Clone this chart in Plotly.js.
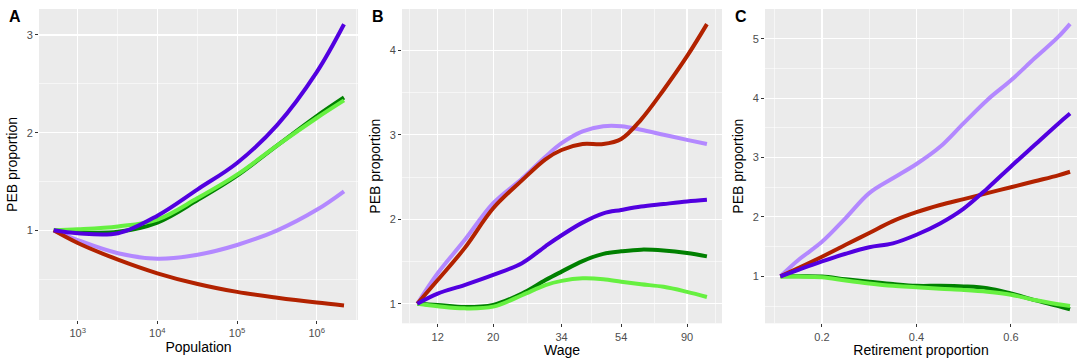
<!DOCTYPE html>
<html>
<head>
<meta charset="utf-8">
<script src="https://cdn.plot.ly/plotly-3.0.1.min.js"></script>
<style>html,body{margin:0;padding:0;background:#fff;}#chart{width:1077px;height:361px;}</style>
</head>
<body>
<div id="chart"></div>
<script>
// ---------- Panel A: Population ----------
const population = [500, 1000, 3200, 10000, 32000, 100000, 320000, 1000000, 2200000];
const popDarkGreen  = [1.00, 0.98, 0.985, 1.08, 1.31, 1.56, 1.87, 2.17, 2.36];
const popLightGreen = [1.00, 1.01, 1.04, 1.11, 1.33, 1.57, 1.87, 2.15, 2.33];
const popLavender   = [1.00, 0.90, 0.765, 0.71, 0.75, 0.85, 1.00, 1.21, 1.40];
const popRed        = [1.00, 0.87, 0.70, 0.56, 0.45, 0.37, 0.31, 0.26, 0.23];
const popPurple     = [1.00, 0.97, 0.97, 1.15, 1.42, 1.69, 2.08, 2.62, 3.11];

// ---------- Panel B: Wage ----------
const wage = [11.1, 13, 16, 20, 25, 30, 34, 40, 47, 54, 63, 75, 90, 105];
const wageDarkGreen  = [1.00, 0.985, 0.96, 0.985, 1.12, 1.28, 1.38, 1.505, 1.59, 1.62, 1.64, 1.63, 1.60, 1.56];
const wageLightGreen = [1.00, 0.97, 0.945, 0.965, 1.10, 1.22, 1.27, 1.30, 1.29, 1.26, 1.23, 1.20, 1.14, 1.08];
const wageLavender   = [1.00, 1.36, 1.75, 2.19, 2.48, 2.74, 2.90, 3.04, 3.10, 3.10, 3.06, 3.00, 2.94, 2.89];
const wageRed        = [1.00, 1.28, 1.655, 2.13, 2.46, 2.71, 2.82, 2.89, 2.89, 2.95, 3.18, 3.53, 3.93, 4.31];
const wagePurple     = [1.00, 1.12, 1.22, 1.34, 1.48, 1.68, 1.81, 1.96, 2.07, 2.11, 2.15, 2.18, 2.21, 2.23];
const wageTickVals   = [13, 20, 34, 54, 90];
const wageTickLabels = ["12", "20", "34", "54", "90"];

// ---------- Panel C: Retirement proportion ----------
const retire = [0.112, 0.15, 0.2, 0.25, 0.3, 0.35, 0.4, 0.45, 0.5, 0.55, 0.6, 0.65, 0.7, 0.725];
const retDarkGreen  = [1.00, 1.00, 0.995, 0.95, 0.91, 0.87, 0.84, 0.84, 0.83, 0.80, 0.71, 0.60, 0.50, 0.445];
const retLightGreen = [0.995, 0.995, 0.985, 0.93, 0.88, 0.84, 0.815, 0.79, 0.77, 0.74, 0.69, 0.60, 0.53, 0.50];
const retLavender   = [1.00, 1.275, 1.58, 1.98, 2.40, 2.65, 2.89, 3.18, 3.58, 3.97, 4.30, 4.67, 5.03, 5.25];
const retRed        = [1.00, 1.14, 1.33, 1.53, 1.73, 1.93, 2.08, 2.20, 2.30, 2.40, 2.50, 2.60, 2.70, 2.76];
const retPurple     = [1.00, 1.11, 1.25, 1.38, 1.49, 1.555, 1.70, 1.89, 2.14, 2.48, 2.85, 3.21, 3.57, 3.74];

const colors = {
  darkGreen: '#008000',
  lightGreen: '#66F040',
  lavender: '#B388FF',
  red: '#B22200',
  purple: '#5200E0'
};
const lineW = 4;

function mk(x, y, color, xa, ya) {
  return {x: x, y: y, type: 'scatter', mode: 'lines', xaxis: xa, yaxis: ya,
          line: {color: color, width: lineW, shape: 'spline', smoothing: 1},
          hoverinfo: 'skip', showlegend: false};
}

const traces = [
  mk(population, popDarkGreen, colors.darkGreen, 'x', 'y'),
  mk(population, popLightGreen, colors.lightGreen, 'x', 'y'),
  mk(population, popLavender, colors.lavender, 'x', 'y'),
  mk(population, popRed, colors.red, 'x', 'y'),
  mk(population, popPurple, colors.purple, 'x', 'y'),

  mk(wage, wageDarkGreen, colors.darkGreen, 'x2', 'y2'),
  mk(wage, wageLightGreen, colors.lightGreen, 'x2', 'y2'),
  mk(wage, wageLavender, colors.lavender, 'x2', 'y2'),
  mk(wage, wageRed, colors.red, 'x2', 'y2'),
  mk(wage, wagePurple, colors.purple, 'x2', 'y2'),

  mk(retire, retDarkGreen, colors.darkGreen, 'x3', 'y3'),
  mk(retire, retLightGreen, colors.lightGreen, 'x3', 'y3'),
  mk(retire, retLavender, colors.lavender, 'x3', 'y3'),
  mk(retire, retRed, colors.red, 'x3', 'y3'),
  mk(retire, retPurple, colors.purple, 'x3', 'y3')
];

const W = 1077, H = 361;
const tickFont = {family: 'Liberation Sans, Arial, sans-serif', size: 11, color: '#4D4D4D'};
const titleFont = {family: 'Liberation Sans, Arial, sans-serif', size: 14, color: '#000000'};

function baseAxis(extra) {
  return Object.assign({
    showgrid: true, gridcolor: '#FFFFFF', gridwidth: 1.1,
    zeroline: false, showline: false,
    ticks: 'outside', ticklen: 3, tickwidth: 1, tickcolor: '#333333',
    tickfont: tickFont, automargin: false, fixedrange: true
  }, extra);
}
function dx(a, b) { return [a / W, b / W]; }
function dy(top, bottom) { return [1 - bottom / H, 1 - top / H]; }

const layout = {
  width: W, height: H,
  margin: {l: 0, r: 0, t: 0, b: 0},
  paper_bgcolor: '#FFFFFF',
  plot_bgcolor: '#EBEBEB',
  showlegend: false,
  font: {family: 'Liberation Sans, Arial, sans-serif'},
  xaxis: baseAxis({
    type: 'log', domain: dx(39, 358), range: [2.514, 6.518], anchor: 'y',
    tickmode: 'array', tickvals: [1e3, 1e4, 1e5, 1e6],
    ticktext: ['10<sup>3</sup>', '10<sup>4</sup>', '10<sup>5</sup>', '10<sup>6</sup>'],
    minor: {tickmode: 'array', tickvals: [Math.pow(10, 3.5), Math.pow(10, 4.5), Math.pow(10, 5.5), Math.pow(10, 6.5)],
            showgrid: true, gridcolor: '#FFFFFF', gridwidth: 0.55, ticks: ''},
    title: {text: 'Population', font: titleFont, standoff: 3}
  }),
  yaxis: baseAxis({
    domain: dy(9, 320), range: [0.082, 3.266], anchor: 'x',
    tickmode: 'array', tickvals: [1, 2, 3],
    minor: {tickmode: 'array', tickvals: [0.5, 1.5, 2.5], showgrid: true, gridcolor: '#FFFFFF', gridwidth: 0.55, ticks: ''},
    title: {text: 'PEB proportion', font: titleFont, standoff: 5}
  }),
  xaxis2: baseAxis({
    type: 'log', domain: dx(402, 722), range: [0.9937, 2.072], anchor: 'y2',
    tickmode: 'array', tickvals: wageTickVals, ticktext: wageTickLabels,
    minor: {tickmode: 'array', tickvals: [10.48, 16.12, 26.08, 42.85, 69.71, 111.8],
            showgrid: true, gridcolor: '#FFFFFF', gridwidth: 0.55, ticks: ''},
    title: {text: 'Wage', font: titleFont, standoff: 3}
  }),
  yaxis2: baseAxis({
    domain: dy(9, 323.3), range: [0.768, 4.489], anchor: 'x2',
    tickmode: 'array', tickvals: [1, 2, 3, 4],
    minor: {tickmode: 'array', tickvals: [1.5, 2.5, 3.5], showgrid: true, gridcolor: '#FFFFFF', gridwidth: 0.55, ticks: ''},
    title: {text: 'PEB proportion', font: titleFont, standoff: 5}
  }),
  xaxis3: baseAxis({
    domain: dx(765, 1077), range: [0.0794, 0.7397], anchor: 'y3',
    tickmode: 'array', tickvals: [0.2, 0.4, 0.6], ticktext: ['0.2', '0.4', '0.6'],
    minor: {tickmode: 'array', tickvals: [0.1, 0.3, 0.5, 0.7], showgrid: true, gridcolor: '#FFFFFF', gridwidth: 0.55, ticks: ''},
    title: {text: 'Retirement proportion', font: titleFont, standoff: 3}
  }),
  yaxis3: baseAxis({
    domain: dy(9, 323.3), range: [0.209, 5.5], anchor: 'x3',
    tickmode: 'array', tickvals: [1, 2, 3, 4, 5],
    minor: {tickmode: 'array', tickvals: [0.5, 1.5, 2.5, 3.5, 4.5], showgrid: true, gridcolor: '#FFFFFF', gridwidth: 0.55, ticks: ''},
    title: {text: 'PEB proportion', font: titleFont, standoff: 5}
  }),
  annotations: [
    {text: '<b>A</b>', x: 15 / W, y: 1 - 16 / H, xref: 'paper', yref: 'paper', showarrow: false,
     font: {family: 'Liberation Sans, Arial, sans-serif', size: 16, color: '#000'}, xanchor: 'center', yanchor: 'middle'},
    {text: '<b>B</b>', x: 378 / W, y: 1 - 16 / H, xref: 'paper', yref: 'paper', showarrow: false,
     font: {family: 'Liberation Sans, Arial, sans-serif', size: 16, color: '#000'}, xanchor: 'center', yanchor: 'middle'},
    {text: '<b>C</b>', x: 741 / W, y: 1 - 16 / H, xref: 'paper', yref: 'paper', showarrow: false,
     font: {family: 'Liberation Sans, Arial, sans-serif', size: 16, color: '#000'}, xanchor: 'center', yanchor: 'middle'}
  ]
};

Plotly.newPlot('chart', traces, layout, {staticPlot: true, displayModeBar: false});
</script>
</body>
</html>
